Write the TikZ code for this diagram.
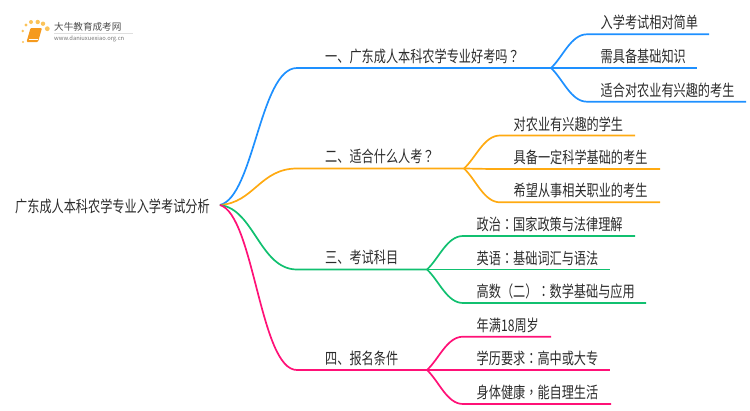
\documentclass[tikz,border=0pt]{standalone}
\usepackage{fontspec}
\setmainfont{Noto Sans CJK SC}
\newfontfamily\bodyfont[FakeStretch=0.76]{Noto Sans CJK SC}
\newfontfamily\punctfont[FakeStretch=0.76]{Noto Sans CJK TC}
\newcommand{\fwq}{{\punctfont\char"FF1F\relax}}
\newcommand{\fwc}{{\punctfont\char"FF1A\relax}}
\newcommand{\fwk}{{\punctfont\char"FF0C\relax}}
\newcommand{\fwl}{{\punctfont\char"FF08\relax}}
\newcommand{\fwr}{{\punctfont\char"FF09\relax}}
\definecolor{bluelink}{HTML}{1E90FF}
\definecolor{orangelink}{HTML}{FFAA11}
\definecolor{greenlink}{HTML}{11C070}
\definecolor{pinklink}{HTML}{FF1177}
\definecolor{inktext}{HTML}{2B2B2B}
\definecolor{bookfill}{HTML}{F59A1E}
\definecolor{dotfill}{HTML}{FBC35A}
\tikzset{
  rootlabel/.style={anchor=west, inner ysep=0pt, inner xsep=10pt, text=inktext, font=\bodyfont\fontsize{16}{18}\selectfont},
  itemlabel/.style={anchor=base west, inner sep=0pt, text=inktext, font=\bodyfont\fontsize{16}{18}\selectfont},
  link/.style={line width=1.7pt},
}
\begin{document}
\begin{tikzpicture}[x=1pt,y=-1pt]
  \useasboundingbox (0,0) rectangle (750,410);

  % logo
  \foreach \x/\y/\r in {23/42/1.1, 22.7/31/1.4, 26/25/1.7, 31/22/2, 37.7/22/2.2, 43/23.7/2.2, 47.3/28.7/2.4} {
    \fill[dotfill] (\x,\y) circle (\r);
  };
  \fill[bookfill, rounded corners=1pt] (30.5,28) -- (42,28) -- (38,42) -- (26.5,42) -- cycle;
  \draw[white, line width=.5pt] (29,39.5) -- (38,39.5);
  \fill[gray!25] (54,33) rectangle (133,33.5);
  \node[anchor=west, inner sep=0pt, text=black!70, font=\fontsize{9.6}{11}\selectfont] (logoname) at (54,27) {大牛教育成考网};
  \node[anchor=west, inner sep=0pt, text=black!55, font=\fontsize{5.8}{7}\selectfont] (logourl) at (54,39) {www.daniuxuexiao.org.cn};

  \node[rootlabel] (root) at (5,206.5) {广东成人本科农学专业入学考试分析};

  % main branches
  \foreach \n/\col/\y/\fx/\name in {
      1/bluelink/68/551/{一、广东成人本科农学专业好考吗\fwq},
      2/orangelink/168.5/464/{二、适合什么人考\fwq},
      3/greenlink/269.5/427/{三、考试科目},
      4/pinklink/370/427/{四、报名条件}} {
    \coordinate (start\n) at (297,\y);
    \coordinate (fork\n) at (\fx,\y);
    \node[itemlabel] (branch\n) at (325,\y-6) {\name};
    \draw[link,\col] ([yshift=1.5pt]root.east) .. controls (254,{205+(\y-205)*.06}) and (260,\y) .. (start\n) -- (fork\n);
  };

  % leaves
  \foreach \p/\k/\col/\fx/\fy/\y/\xe/\name in {
      1/1/bluelink/551/68/34.3/709/入学考试相对简单,
      1/2/bluelink/551/68/68/697/需具备基础知识,
      1/3/bluelink/551/68/101.7/746/适合对农业有兴趣的考生,
      2/1/orangelink/464/168.5/135.5/635/对农业有兴趣的学生,
      2/2/orangelink/464/168.5/169/660/具备一定科学基础的考生,
      2/3/orangelink/464/168.5/202.3/660/希望从事相关职业的考生,
      3/1/greenlink/427/269.5/236/635/{政治\fwc 国家政策与法律理解},
      3/2/greenlink/427/269.5/269.5/610/{英语\fwc 基础词汇与语法},
      3/3/greenlink/427/269.5/303/646/{高数\fwl 二\fwr\fwc 数学基础与应用},
      4/1/pinklink/427/370/336.7/551/年满18周岁,
      4/2/pinklink/427/370/370/610/{学历要求\fwc 高中或大专},
      4/3/pinklink/427/370/404/611/{身体健康\fwk 能自理生活}} {
    \coordinate (bend\p\k) at (\fx+36,\y);
    \coordinate (end\p\k) at (\xe,\y);
    \node[itemlabel] (leaf\p\k) at (\fx+49.5,\y-5.5) {\name};
    \draw[link,\col] (fork\p) .. controls ({\fx+12},{\fy+(\y-\fy)*.33}) and ({\fx+20},\y) .. (bend\p\k) -- (end\p\k);
  };
\end{tikzpicture}
\end{document}
